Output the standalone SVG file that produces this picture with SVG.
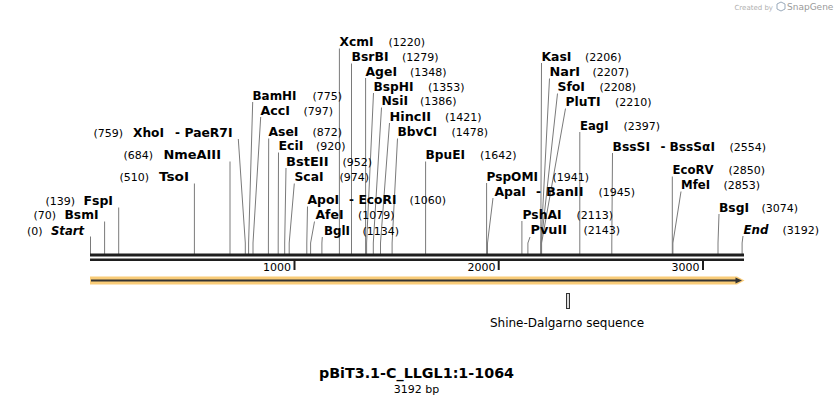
<svg xmlns="http://www.w3.org/2000/svg" width="834" height="404" viewBox="0 0 834 404">
<style>
text{font-family:"DejaVu Sans","Liberation Sans",sans-serif;fill:#000}
.n{font-size:12px;font-weight:bold}
.ni{font-size:12px;font-weight:bold;font-style:italic}
.p{font-size:11px}
.e{text-anchor:end}
.c line,.c polyline{stroke:#7a7a7a;stroke-width:1;fill:none}
.bb{stroke:#1e1e1e}
</style>
<rect width="834" height="404" fill="#fff"/>
<g id="watermark">
<text x="773" y="10" style="font-size:7px;fill:#b0b0b0" text-anchor="end">Created by</text>
<path d="M777 4 l4 -2 l4 2 v5 l-4 2 l-4 -2 z" fill="none" stroke="#9ab" stroke-width="1"/>
<text x="787" y="10" style="font-size:9px;fill:#9a9a9a">SnapGene</text>
</g>
<g id="connectors" class="c">
<line x1="90.5" y1="236.5" x2="90.5" y2="254"/>
<line x1="104.6" y1="221.5" x2="104.6" y2="254"/>
<line x1="118.7" y1="207.5" x2="118.7" y2="254"/>
<line x1="194.4" y1="183.5" x2="194.4" y2="254"/>
<line x1="230" y1="161.5" x2="230" y2="254"/>
<polyline points="238.3,139 245.3,243 245.3,254"/>
<polyline points="252.7,102 248.6,243 248.6,254"/>
<polyline points="260.7,117 253,243 253,254"/>
<polyline points="268.7,138.5 268.4,243 268.4,254"/>
<polyline points="278.5,152.5 278.2,243 278.2,254"/>
<polyline points="286,168 284.7,243 284.7,254"/>
<polyline points="294.3,183.5 289.2,243 289.2,254"/>
<polyline points="307.5,206.5 306.8,243 306.8,254"/>
<polyline points="314.5,221.5 310.6,243 310.6,254"/>
<polyline points="322.3,237 321.9,243 321.9,254"/>
<line x1="339.4" y1="48.5" x2="339.4" y2="254"/>
<line x1="351.5" y1="63.5" x2="351.5" y2="254"/>
<line x1="365.6" y1="78" x2="365.6" y2="254"/>
<polyline points="373.5,93 366.6,243 366.6,254"/>
<polyline points="381.5,107.5 373.3,243 373.3,254"/>
<polyline points="389.5,123 380.5,243 380.5,254"/>
<polyline points="397.5,138.5 392.1,243 392.1,254"/>
<line x1="425.6" y1="161.5" x2="425.6" y2="254"/>
<line x1="486.6" y1="183" x2="486.6" y2="254"/>
<polyline points="493,198 487.5,243 487.5,254"/>
<line x1="521.9" y1="221" x2="521.9" y2="254"/>
<polyline points="530,237 527.9,243 527.9,254"/>
<polyline points="541.5,63 540.8,243 540.8,254"/>
<polyline points="549.5,78.5 541,243 541,254"/>
<polyline points="557.5,93.5 541.2,243 541.2,254"/>
<polyline points="565.5,108.5 541.6,243 541.6,254"/>
<line x1="579.8" y1="132" x2="579.8" y2="254"/>
<polyline points="612.5,153 611.8,243 611.8,254"/>
<line x1="672.3" y1="176.5" x2="672.3" y2="254"/>
<polyline points="681,191.5 672.9,243 672.9,254"/>
<polyline points="719,214 718,243 718,254"/>
<polyline points="743,236 742.1,243 742.1,254"/>
</g>
<g id="backbone">
<line class="bb" x1="90" y1="255" x2="744" y2="255" stroke-width="3"/>
<line class="bb" x1="90" y1="259.7" x2="744" y2="259.7" stroke-width="2.6"/>
<line class="bb" x1="294.5" y1="261" x2="294.5" y2="270" stroke-width="2"/>
<line class="bb" x1="498.7" y1="261" x2="498.7" y2="270" stroke-width="2"/>
<line class="bb" x1="703" y1="261" x2="703" y2="270" stroke-width="2"/>
<text class="p e" x="291" y="270.5">1000</text>
<text class="p e" x="495.5" y="270.5">2000</text>
<text class="p e" x="699.5" y="270.5">3000</text>
</g>
<g id="feature-arrow">
<polygon points="90,276.5 737,276.5 744.5,280.5 737,284.5 90,284.5" fill="#f9cc78"/>
<line x1="91" y1="280.5" x2="737" y2="280.5" stroke="#333" stroke-width="2"/>
<polygon points="735.5,277.5 742,280.5 735.5,283.5" fill="#333"/>
</g>
<g id="shine-dalgarno">
<rect x="566.5" y="293.5" width="3" height="15" fill="#ddd" stroke="#333" stroke-width="1"/>
<text x="567" y="327" style="font-size:12px" text-anchor="middle">Shine-Dalgarno sequence</text>
</g>
<g id="title">
<text x="416.5" y="378" style="font-size:14.3px;font-weight:bold" text-anchor="middle">pBiT3.1-C_LLGL1:1-1064</text>
<text x="416.5" y="392.5" style="font-size:11px" text-anchor="middle">3192 bp</text>
</g>
<g id="site-start"><text class="p e" x="42.5" y="234.5">(0)</text><text class="ni e" x="84" y="234.5" textLength="33" lengthAdjust="spacingAndGlyphs">Start</text></g>
<g id="site-BsmI"><text class="p e" x="56" y="219">(70)</text><text class="n e" x="98.5" y="219" textLength="34" lengthAdjust="spacingAndGlyphs">BsmI</text></g>
<g id="site-FspI"><text class="p e" x="75" y="205">(139)</text><text class="n e" x="113" y="205" textLength="29.5" lengthAdjust="spacingAndGlyphs">FspI</text></g>
<g id="site-TsoI"><text class="p e" x="149" y="181">(510)</text><text class="n e" x="189" y="181" textLength="30" lengthAdjust="spacingAndGlyphs">TsoI</text></g>
<g id="site-NmeAIII"><text class="p e" x="153" y="159">(684)</text><text class="n e" x="221" y="159" textLength="57.5" lengthAdjust="spacingAndGlyphs">NmeAIII</text></g>
<g id="site-XhoI"><text class="p e" x="123" y="136.5">(759)</text><text class="n e" x="164" y="136.5" textLength="31" lengthAdjust="spacingAndGlyphs">XhoI</text><text class="n e" x="180" y="136.5">-</text><text class="n e" x="232.5" y="136.5" textLength="48" lengthAdjust="spacingAndGlyphs">PaeR7I</text></g>
<g id="site-BamHI"><text class="n" x="252.5" y="99.5" textLength="44" lengthAdjust="spacingAndGlyphs">BamHI</text><text class="p" x="312.5" y="99.5">(775)</text></g>
<g id="site-AccI"><text class="n" x="260.5" y="114.5" textLength="29.5" lengthAdjust="spacingAndGlyphs">AccI</text><text class="p" x="303.5" y="114.5">(797)</text></g>
<g id="site-AseI"><text class="n" x="268.5" y="136" textLength="30" lengthAdjust="spacingAndGlyphs">AseI</text><text class="p" x="312.5" y="136">(872)</text></g>
<g id="site-EciI"><text class="n" x="278.5" y="150" textLength="25" lengthAdjust="spacingAndGlyphs">EciI</text><text class="p" x="316" y="150">(920)</text></g>
<g id="site-BstEII"><text class="n" x="286" y="165.5" textLength="42.5" lengthAdjust="spacingAndGlyphs">BstEII</text><text class="p" x="342.5" y="165.5">(952)</text></g>
<g id="site-ScaI"><text class="n" x="294.5" y="181" textLength="29" lengthAdjust="spacingAndGlyphs">ScaI</text><text class="p" x="339.5" y="181">(974)</text></g>
<g id="site-ApoI"><text class="n" x="307.5" y="204" textLength="31.5" lengthAdjust="spacingAndGlyphs">ApoI</text><text class="n" x="349" y="204">-</text><text class="n" x="358.5" y="204" textLength="38" lengthAdjust="spacingAndGlyphs">EcoRI</text><text class="p" x="409.5" y="204">(1060)</text></g>
<g id="site-AfeI"><text class="n" x="315.5" y="219" textLength="28" lengthAdjust="spacingAndGlyphs">AfeI</text><text class="p" x="358" y="219">(1079)</text></g>
<g id="site-BglI"><text class="n" x="324" y="234.5" textLength="26" lengthAdjust="spacingAndGlyphs">BglI</text><text class="p" x="362.5" y="234.5">(1134)</text></g>
<g id="site-XcmI"><text class="n" x="339.5" y="46" textLength="34" lengthAdjust="spacingAndGlyphs">XcmI</text><text class="p" x="388.5" y="46">(1220)</text></g>
<g id="site-BsrBI"><text class="n" x="351.5" y="61" textLength="37" lengthAdjust="spacingAndGlyphs">BsrBI</text><text class="p" x="402" y="61">(1279)</text></g>
<g id="site-AgeI"><text class="n" x="365.5" y="75.5" textLength="31.5" lengthAdjust="spacingAndGlyphs">AgeI</text><text class="p" x="410" y="75.5">(1348)</text></g>
<g id="site-BspHI"><text class="n" x="373.5" y="90.5" textLength="40" lengthAdjust="spacingAndGlyphs">BspHI</text><text class="p" x="428" y="90.5">(1353)</text></g>
<g id="site-NsiI"><text class="n" x="381.5" y="105" textLength="26.5" lengthAdjust="spacingAndGlyphs">NsiI</text><text class="p" x="420" y="105">(1386)</text></g>
<g id="site-HincII"><text class="n" x="389.5" y="120.5" textLength="41.5" lengthAdjust="spacingAndGlyphs">HincII</text><text class="p" x="445" y="120.5">(1421)</text></g>
<g id="site-BbvCI"><text class="n" x="397.5" y="136" textLength="39.5" lengthAdjust="spacingAndGlyphs">BbvCI</text><text class="p" x="451.5" y="136">(1478)</text></g>
<g id="site-BpuEI"><text class="n" x="425.5" y="159" textLength="39.5" lengthAdjust="spacingAndGlyphs">BpuEI</text><text class="p" x="480" y="159">(1642)</text></g>
<g id="site-PspOMI"><text class="n" x="486.5" y="180.5" textLength="51.5" lengthAdjust="spacingAndGlyphs">PspOMI</text><text class="p" x="552.5" y="180.5">(1941)</text></g>
<g id="site-ApaI"><text class="n" x="494.5" y="195.5" textLength="31.5" lengthAdjust="spacingAndGlyphs">ApaI</text><text class="n" x="536" y="195.5">-</text><text class="n" x="546" y="195.5" textLength="37.5" lengthAdjust="spacingAndGlyphs">BanII</text><text class="p" x="598.5" y="195.5">(1945)</text></g>
<g id="site-PshAI"><text class="n" x="522.5" y="218.5" textLength="39" lengthAdjust="spacingAndGlyphs">PshAI</text><text class="p" x="576.5" y="218.5">(2113)</text></g>
<g id="site-PvuII"><text class="n" x="530.5" y="234" textLength="36.5" lengthAdjust="spacingAndGlyphs">PvuII</text><text class="p" x="583.5" y="234">(2143)</text></g>
<g id="site-KasI"><text class="n" x="541.5" y="60.5" textLength="30" lengthAdjust="spacingAndGlyphs">KasI</text><text class="p" x="585" y="60.5">(2206)</text></g>
<g id="site-NarI"><text class="n" x="549.5" y="76" textLength="30.5" lengthAdjust="spacingAndGlyphs">NarI</text><text class="p" x="592.5" y="76">(2207)</text></g>
<g id="site-SfoI"><text class="n" x="557.5" y="91" textLength="27.5" lengthAdjust="spacingAndGlyphs">SfoI</text><text class="p" x="599.5" y="91">(2208)</text></g>
<g id="site-PluTI"><text class="n" x="565.5" y="106" textLength="35" lengthAdjust="spacingAndGlyphs">PluTI</text><text class="p" x="615" y="106">(2210)</text></g>
<g id="site-EagI"><text class="n" x="580" y="129.5" textLength="28.5" lengthAdjust="spacingAndGlyphs">EagI</text><text class="p" x="623.5" y="129.5">(2397)</text></g>
<g id="site-BssSI"><text class="n" x="612.5" y="150.5" textLength="37.5" lengthAdjust="spacingAndGlyphs">BssSI</text><text class="n" x="660.5" y="150.5">-</text><text class="n" x="669.5" y="150.5" textLength="45.5" lengthAdjust="spacingAndGlyphs">BssSαI</text><text class="p" x="729.5" y="150.5">(2554)</text></g>
<g id="site-EcoRV"><text class="n" x="672.5" y="174" textLength="41" lengthAdjust="spacingAndGlyphs">EcoRV</text><text class="p" x="728.5" y="174">(2850)</text></g>
<g id="site-MfeI"><text class="n" x="681" y="189" textLength="29" lengthAdjust="spacingAndGlyphs">MfeI</text><text class="p" x="723.5" y="189">(2853)</text></g>
<g id="site-BsgI"><text class="n" x="719" y="211.5" textLength="30" lengthAdjust="spacingAndGlyphs">BsgI</text><text class="p" x="761.5" y="211.5">(3074)</text></g>
<g id="site-end"><text class="ni" x="743.5" y="233.5" textLength="25" lengthAdjust="spacingAndGlyphs">End</text><text class="p" x="782.5" y="233.5">(3192)</text></g>
</svg>
